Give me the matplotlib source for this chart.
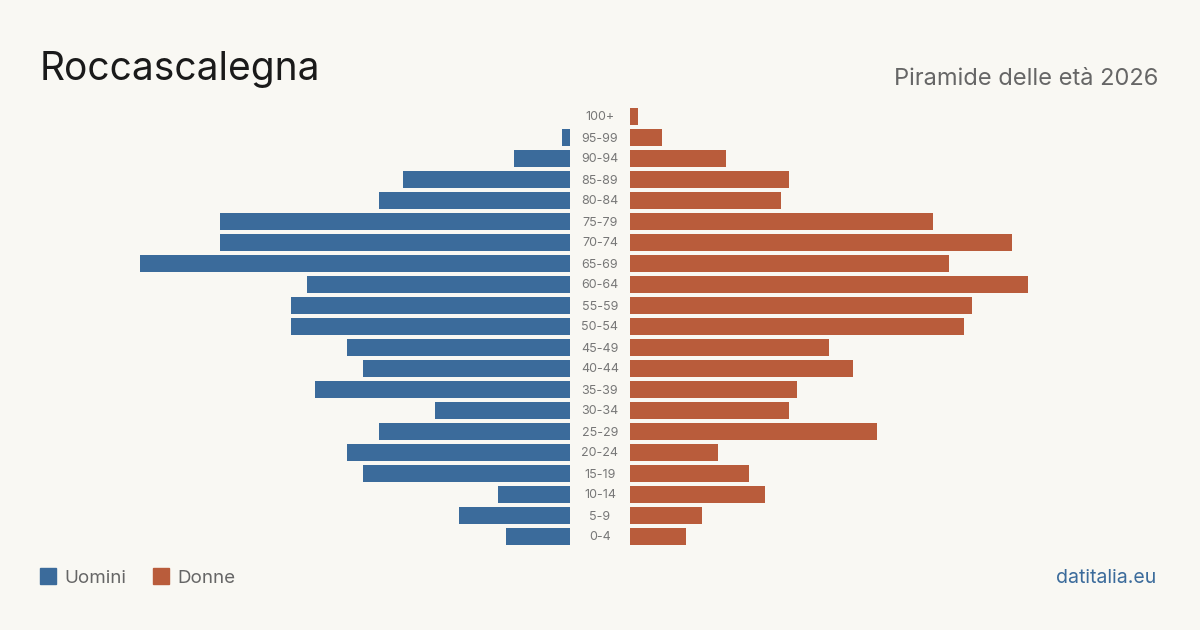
import matplotlib
matplotlib.use("Agg")
import matplotlib.pyplot as plt
from matplotlib.patches import Rectangle

age_groups = ["100+", "95-99", "90-94", "85-89", "80-84", "75-79", "70-74", "65-69",
              "60-64", "55-59", "50-54", "45-49", "40-44", "35-39", "30-34", "25-29",
              "20-24", "15-19", "10-14", "5-9", "0-4"]
men = [0, 1, 7, 21, 24, 44, 44, 54, 33, 35, 35, 28, 26, 32, 17, 24, 28, 26, 9, 14, 8]
women = [1, 4, 12, 20, 19, 38, 48, 40, 50, 43, 42, 25, 28, 21, 20, 31, 11, 15, 17, 9, 7]

title = "Roccascalegna"
subtitle = "Piramide delle età 2026"
legend_labels = ["Uomini", "Donne"]
source = "datitalia.eu"

BG = "#f9f8f3"
BLUE = "#3b6b9b"
ORANGE = "#b95c3b"
FONT = ["Inter", "DejaVu Sans"]
plt.rcParams["font.family"] = FONT

W, H = 1200, 630
fig = plt.figure(figsize=(12, 6.3), dpi=100, facecolor=BG)

xmax = 54.0
top_px, bot_px = 105.5, 546.5
ybot = 1 - bot_px / H
yh = (bot_px - top_px) / H

axL = fig.add_axes([140 / W, ybot, 430 / W, yh])
axR = fig.add_axes([630 / W, ybot, 430 / W, yh])
ys = list(range(len(age_groups)))
for ax in (axL, axR):
    ax.set_facecolor("none")
    ax.set_ylim(len(age_groups) - 0.5, -0.5)
    ax.axis("off")
axL.set_xlim(xmax, 0)
axR.set_xlim(0, xmax)
axL.barh(ys, men, height=17 / 21, color=BLUE)
axR.barh(ys, women, height=17 / 21, color=ORANGE)

for i, lab in enumerate(age_groups):
    y = 1 - (top_px + 21 * i + 12) / H
    fig.text(600 / W, y, lab, ha="center", va="center", fontsize=9, color="#777777")

fig.text(40 / W, 1 - 80 / H, title, fontsize=28, color="#1a1a1a", ha="left", va="baseline")
fig.text(1158 / W, 1 - 85 / H, subtitle, fontsize=17, color="#666666", ha="right", va="baseline")

# legend
for x0, col, lab in [(40, BLUE, legend_labels[0]), (153, ORANGE, legend_labels[1])]:
    fig.patches.append(Rectangle((x0 / W, 1 - 584 / H), 16 / W, 16 / H,
                                 transform=fig.transFigure, color=col))
    fig.text((x0 + 24) / W, 1 - 583 / H, lab, fontsize=13.5, color="#666666",
             ha="left", va="baseline")

fig.text(1156 / W, 1 - 583 / H, source, fontsize=14, color=BLUE, ha="right", va="baseline")

fig.savefig("out.png", dpi=100, facecolor=BG)
